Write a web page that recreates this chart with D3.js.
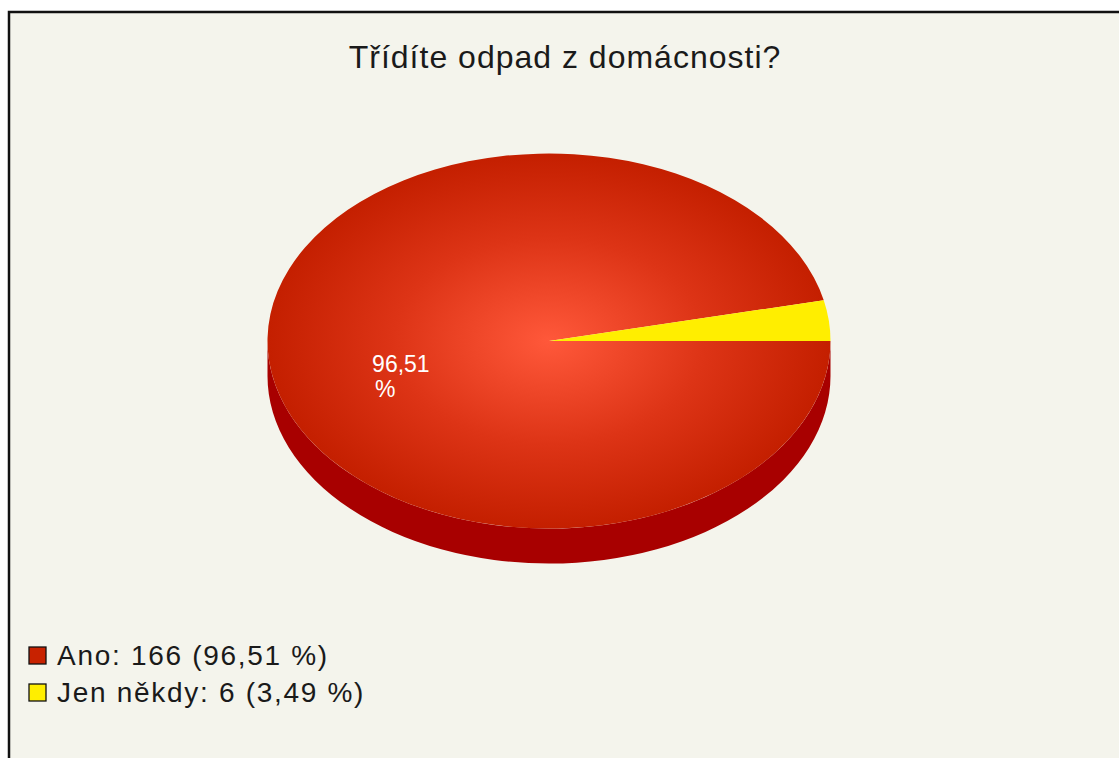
<!DOCTYPE html>
<html lang="cs">
<head>
  <meta charset="utf-8">
  <title>Třídíte odpad z domácnosti?</title>
  <script src="https://d3js.org/d3.v7.min.js"></script>
  <style>
    html, body { margin: 0; padding: 0; background: #fff; overflow: hidden; }
    svg { display: block; }
  </style>
</head>
<body>
  <svg width="1119" height="758"></svg>
  <script>
    const title = "Třídíte odpad z domácnosti?";
    const categories = ["Ano", "Jen někdy"];
    const values = [166, 6];
    const colors = ["#c82200", "#ffee00"];

    const svg = d3.select("svg");
    const W = 1119, H = 758;

    // chart frame (cropped at right/bottom like the original)
    svg.append("rect")
      .attr("x", 9).attr("y", 12)
      .attr("width", W + 20).attr("height", H + 20)
      .attr("fill", "#f4f4ec")
      .attr("stroke", "#111").attr("stroke-width", 2.5);

    svg.append("text")
      .attr("x", 565).attr("y", 68)
      .attr("text-anchor", "middle")
      .attr("font-family", "Liberation Sans, Arial, sans-serif")
      .attr("font-size", 32)
      .attr("letter-spacing", 1)
      .attr("fill", "#1a1a1a")
      .text(title);

    const cx = 549, cy = 341, rx = 281.5, ry = 187.5, depth = 35;
    const total = d3.sum(values);
    const fmt = v => (v / total * 100).toFixed(2).replace(".", ",");

    // pie: first slice starts where the last one ends, counterclockwise from 3 o'clock
    const theta0 = 2 * Math.PI * values[values.length - 1] / total;
    const pie = d3.pie().sort(null)(values);
    const arc = d3.arc().innerRadius(0).outerRadius(rx);

    const defs = svg.append("defs");
    const grad = defs.append("radialGradient")
      .attr("id", "topGrad")
      .attr("gradientUnits", "userSpaceOnUse")
      .attr("cx", 0).attr("cy", 0).attr("r", rx);
    grad.append("stop").attr("offset", 0).attr("stop-color", "#ff583a");
    grad.append("stop").attr("offset", 0.55).attr("stop-color", "#dd3416");
    grad.append("stop").attr("offset", 1).attr("stop-color", "#c41f00");

    // side wall (front half)
    svg.append("path")
      .attr("d", `M${cx - rx},${cy} A${rx},${ry} 0 0 0 ${cx + rx},${cy} L${cx + rx},${cy + depth} A${rx},${ry} 0 0 1 ${cx - rx},${cy + depth} Z`)
      .attr("fill", "#a80000");

    const face = svg.append("g")
      .attr("transform", `translate(${cx},${cy}) scale(1,${ry / rx})`);

    face.selectAll("path")
      .data(pie)
      .join("path")
      .attr("d", d => arc({
        startAngle: Math.PI / 2 - (theta0 + d.startAngle),
        endAngle: Math.PI / 2 - (theta0 + d.endAngle)
      }))
      .attr("fill", (d, i) => i === 0 ? "url(#topGrad)" : colors[i]);

    // in-slice label for the big slice
    const big = pie[0];
    const mid = theta0 + (big.startAngle + big.endAngle) / 2;
    const lx = cx + rx * 0.55 * Math.cos(mid) - 23;
    const ly = cy - ry * 0.55 * Math.sin(mid) + 20;
    const lab = svg.append("text")
      .attr("font-family", "Liberation Sans, Arial, sans-serif")
      .attr("font-size", 23)
      .attr("fill", "#fff");
    lab.append("tspan").attr("x", lx).attr("y", ly).text(fmt(values[0]));
    lab.append("tspan").attr("x", lx + 3).attr("y", ly + 25).text("%");

    // legend
    const leg = svg.append("g").selectAll("g")
      .data(categories)
      .join("g")
      .attr("transform", (d, i) => `translate(29,${647 + i * 37})`);
    leg.append("rect")
      .attr("width", 17).attr("height", 17)
      .attr("fill", (d, i) => colors[i])
      .attr("stroke", "#111").attr("stroke-width", 1.3);
    leg.append("text")
      .attr("x", 28).attr("y", 18)
      .attr("font-family", "Liberation Sans, Arial, sans-serif")
      .attr("font-size", 28)
      .attr("letter-spacing", 1.7)
      .attr("fill", "#1a1a1a")
      .text((d, i) => `${d}: ${values[i]} (${fmt(values[i])} %)`);
  </script>
</body>
</html>
